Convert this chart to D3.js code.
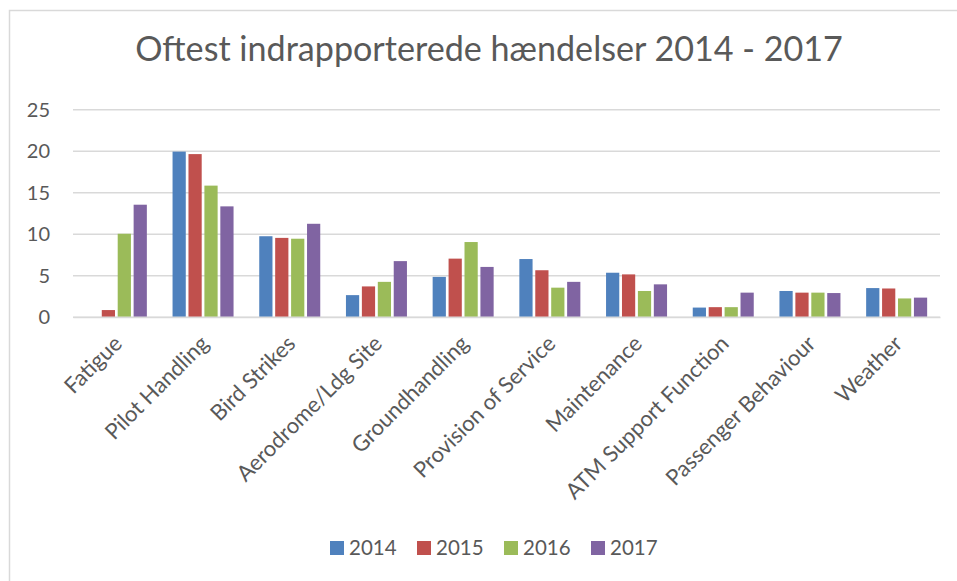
<!DOCTYPE html>
<html><head><meta charset="utf-8">
<script src="https://cdn.jsdelivr.net/npm/d3@7"></script>
<style>body{margin:0;background:#fff}svg{display:block}text{font-family:Lato,"Open Sans",sans-serif;fill:#595959}</style>
</head><body><svg id="c" width="957" height="581"></svg>
<script>
const categories = ["Fatigue","Pilot Handling","Bird Strikes","Aerodrome/Ldg Site","Groundhandling","Provision of Service","Maintenance","ATM Support Function","Passenger Behaviour","Weather"];
const years = ["2014","2015","2016","2017"];
const v2014 = [0, 19.9, 9.7, 2.6, 4.8, 6.95, 5.3, 1.1, 3.1, 3.45];
const v2015 = [0.8, 19.6, 9.5, 3.65, 7.0, 5.6, 5.1, 1.15, 2.9, 3.4];
const v2016 = [10.0, 15.8, 9.4, 4.2, 9.0, 3.5, 3.1, 1.15, 2.9, 2.2];
const v2017 = [13.5, 13.3, 11.2, 6.7, 6.0, 4.2, 3.9, 2.9, 2.85, 2.3];
const yTicks = [0,5,10,15,20,25];
const colors = ["#4F81BD","#C0504D","#9BBB59","#8064A2"];
const series = [v2014, v2015, v2016, v2017];

const svg = d3.select("#c");
svg.append("rect").attr("x",9.5).attr("y",10.5).attr("width",960).attr("height",600)
  .attr("fill","#fff").attr("stroke","#d9d9d9").attr("stroke-width",1.5);

const x = d3.scaleBand().domain(categories).range([73,940]);
const y = d3.scaleLinear().domain([0,25]).range([316.7,109.3]);
const x1 = d3.scaleBand().domain(years).range([0,61]).paddingInner(0.17);

// gridlines
const yAxis = d3.axisLeft(y).tickValues(yTicks).tickSize(-(940-73)).tickPadding(23);
const gy = svg.append("g").attr("transform","translate(73,0)").call(yAxis);
gy.select(".domain").remove();
gy.selectAll(".tick line").attr("stroke","#d9d9d9").attr("stroke-width",1.5);
gy.selectAll(".tick text").attr("font-size",20).style("fill","#595959").attr("dy","0.35em");

// bars
categories.forEach((c,i)=>{
  const g = svg.append("g").attr("transform",`translate(${x(c)+x.bandwidth()/2-30.5},0)`);
  series.forEach((s,j)=>{
    if(s[i]<=0) return;
    g.append("rect").attr("x",x1(years[j])).attr("y",y(s[i]))
      .attr("width",x1.bandwidth()).attr("height",y(0)-y(s[i]))
      .attr("fill",colors[j]);
  });
});

// x labels
const xAxis = d3.axisBottom(x).tickSize(0).tickPadding(0);
const gx = svg.append("g").attr("transform","translate(0,317)").call(xAxis);
gx.select(".domain").attr("stroke","#d9d9d9").attr("stroke-width",1.5);
gx.selectAll(".tick text").attr("font-size",22).style("fill","#595959")
  .attr("text-anchor","end").attr("dy",0).attr("y",0)
  .attr("transform","translate(7,28) rotate(-45)");

// title
const t = svg.append("text").attr("x",489).attr("y",61).attr("text-anchor","middle")
  .attr("font-size",30).text("Oftest indrapporterede hændelser 2014 - 2017");
const w = t.node().getComputedTextLength();
t.attr("font-size",30*708/w);

// legend
const lg = svg.append("g");
years.forEach((yr,j)=>{
  const lx = 330 + j*87;
  lg.append("rect").attr("x",lx).attr("y",541).attr("width",14).attr("height",14).attr("fill",colors[j]);
  lg.append("text").attr("x",lx+19).attr("y",548).attr("dy","0.35em").attr("font-size",20.5).text(yr);
});
</script></body></html>
